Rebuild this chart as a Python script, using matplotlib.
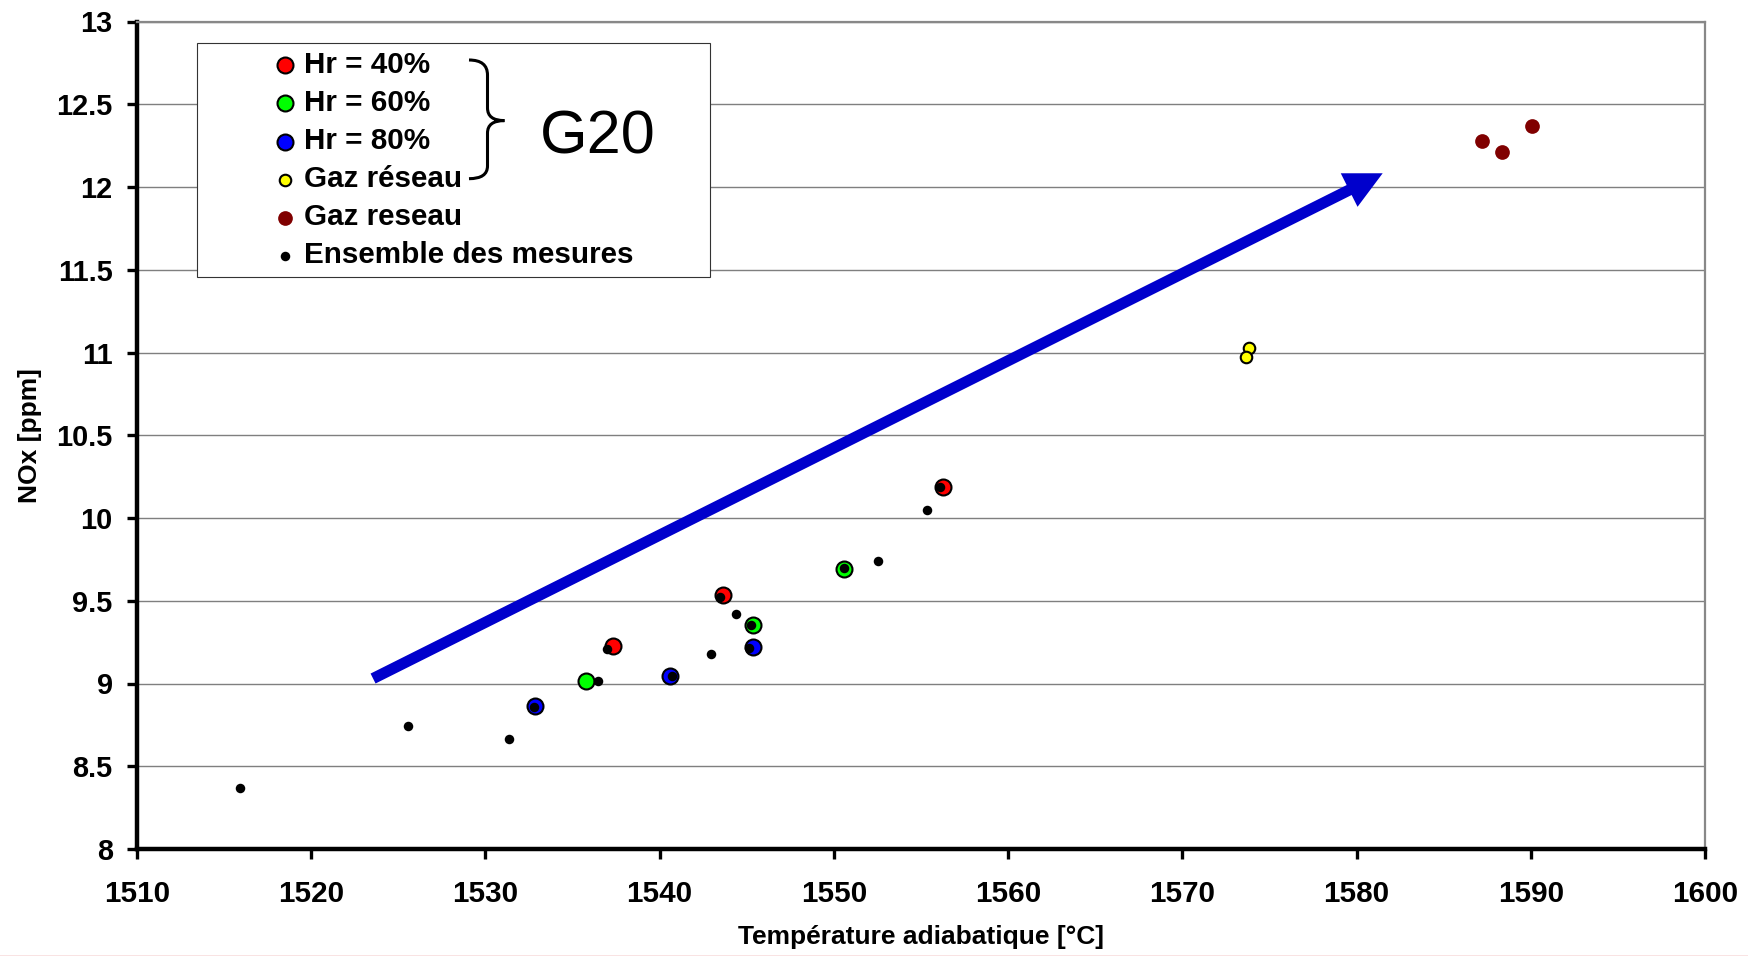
import matplotlib
matplotlib.use("Agg")
import matplotlib.pyplot as plt
from matplotlib.path import Path
from matplotlib.patches import PathPatch
from matplotlib.lines import Line2D

plt.rcParams['font.family'] = ['Liberation Sans', 'DejaVu Sans']
plt.rcParams['font.weight'] = 'bold'

# NOx mesuré en fonction de la température adiabatique
hr40_t = [1537.34, 1543.62, 1556.25]
hr40_nox = [9.228, 9.534, 10.186]
hr60_t = [1535.78, 1545.38, 1550.57]
hr60_nox = [9.016, 9.352, 9.694]
hr80_t = [1532.85, 1540.58, 1545.34]
hr80_nox = [8.865, 9.046, 9.222]
gaz_reseau_t = [1573.83, 1573.64]
gaz_reseau_nox = [11.025, 10.97]
gaz_reseau2_t = [1587.2, 1588.34, 1590.06]
gaz_reseau2_nox = [12.28, 12.21, 12.367]
mesures_t = [1515.9, 1525.56, 1531.34, 1532.8, 1536.45, 1537.0, 1540.7, 1542.97,
             1543.47, 1544.37, 1545.25, 1545.13, 1550.6, 1552.52, 1555.35, 1556.1]
mesures_nox = [8.366, 8.743, 8.666, 8.86, 9.018, 9.21, 9.046, 9.178,
               9.525, 9.418, 9.352, 9.214, 9.70, 9.741, 10.049, 10.186]

# tendance (flèche)
fleche_debut = (1523.55, 9.03)
fleche_fin = (1581.5, 12.083)

xticks = [1510, 1520, 1530, 1540, 1550, 1560, 1570, 1580, 1590, 1600]
yticks = [8, 8.5, 9, 9.5, 10, 10.5, 11, 11.5, 12, 12.5, 13]
ylabels = ['8', '8.5', '9', '9.5', '10', '10.5', '11', '11.5', '12', '12.5', '13']

W, H = 1749, 956
fig = plt.figure(figsize=(W / 100, H / 100), dpi=100)
ax = fig.add_axes([137 / W, 1 - 849 / H, (1705 - 137) / W, (849 - 21.5) / H])

h40 = ax.scatter(hr40_t, hr40_nox, s=132, c='#ff0000', edgecolors='black', linewidths=1.5, zorder=3)
h60 = ax.scatter(hr60_t, hr60_nox, s=132, c='#00ff00', edgecolors='black', linewidths=1.5, zorder=3)
h80 = ax.scatter(hr80_t, hr80_nox, s=132, c='#0000ff', edgecolors='black', linewidths=1.5, zorder=3)
hgr = ax.scatter(gaz_reseau_t, gaz_reseau_nox, s=69, c='#ffff00', edgecolors='black', linewidths=1.5, zorder=3)
hgr2 = ax.scatter(gaz_reseau2_t, gaz_reseau2_nox, s=112, c='#800000', linewidths=0, zorder=3)
hall = ax.scatter(mesures_t, mesures_nox, s=47, c='black', linewidths=0, zorder=4)

ax.annotate('', xy=fleche_fin, xytext=fleche_debut,
            arrowprops=dict(arrowstyle='simple,head_length=27,head_width=27,tail_width=8',
                            mutation_scale=1, color='#0000cc', lw=0, shrinkA=0, shrinkB=0),
            zorder=2)

ax.set_xlim(1510, 1600)
ax.set_ylim(8, 13)
ax.set_xticks(xticks)
ax.set_xticklabels([str(t) for t in xticks], fontweight='bold')
ax.set_yticks(yticks)
ax.set_yticklabels(ylabels, fontweight='bold')
ax.yaxis.grid(True, color='#7f7f7f', lw=1)
ax.set_axisbelow(True)

for s in ['left', 'bottom']:
    ax.spines[s].set_color('black')
    ax.spines[s].set_linewidth(3.2)
for s in ['top', 'right']:
    ax.spines[s].set_color('#888888')
    ax.spines[s].set_linewidth(1.6)

ax.tick_params(axis='both', direction='out', width=2.4, length=7.5)
ax.tick_params(axis='x', pad=15, labelsize=21.3)
ax.tick_params(axis='y', pad=10, labelsize=20.8)

ax.set_xlabel('Température adiabatique [°C]', fontsize=19, fontweight='bold')
ax.xaxis.set_label_coords(0.5, -0.092)
ax.set_ylabel('NOx [ppm]', fontsize=19, fontweight='bold', va='center')
ax.yaxis.set_label_coords(-0.0682, 0.5)

leg = ax.legend([h40, h60, h80, hgr, hgr2, hall],
                ['Hr = 40%', 'Hr = 60%', 'Hr = 80%', 'Gaz réseau', 'Gaz reseau', 'Ensemble des mesures'],
                loc='upper left', bbox_to_anchor=(197 / W, 0.3, (709.5 - 197) / W, 1 - 43.5 / H - 0.3),
                bbox_transform=fig.transFigure, mode='expand', borderaxespad=0,
                prop=dict(weight='bold', size=21.3), scatterpoints=1,
                handlelength=5.45, handletextpad=-2.08, borderpad=0.26, labelspacing=0.34,
                fancybox=False, framealpha=1, edgecolor='#333333')
leg.get_frame().set_linewidth(0.8)

# accolade + G20
pts = [(469, 60), (487.5, 60), (487.5, 75), (487.5, 108), (487.5, 120.6), (504.4, 120.6),
       (487.5, 120.6), (487.5, 133), (487.5, 166), (487.5, 178.7), (469, 178.7)]
codes = [Path.MOVETO, Path.CURVE3, Path.CURVE3, Path.LINETO, Path.CURVE3, Path.CURVE3,
         Path.CURVE3, Path.CURVE3, Path.LINETO, Path.CURVE3, Path.CURVE3]
brace = Path([(x / W, 1 - y / H) for x, y in pts], codes)
fig.add_artist(PathPatch(brace, transform=fig.transFigure, fill=False, lw=2.2, color='black', zorder=10))
fig.text(540 / W, 1 - 153.4 / H, 'G20', fontsize=44, fontweight='normal', ha='left', va='baseline', zorder=10)

fig.add_artist(Line2D([0, 1], [0.5 / H, 0.5 / H], transform=fig.transFigure, color='#e57373', lw=1))

fig.savefig('out.png', dpi=100)
